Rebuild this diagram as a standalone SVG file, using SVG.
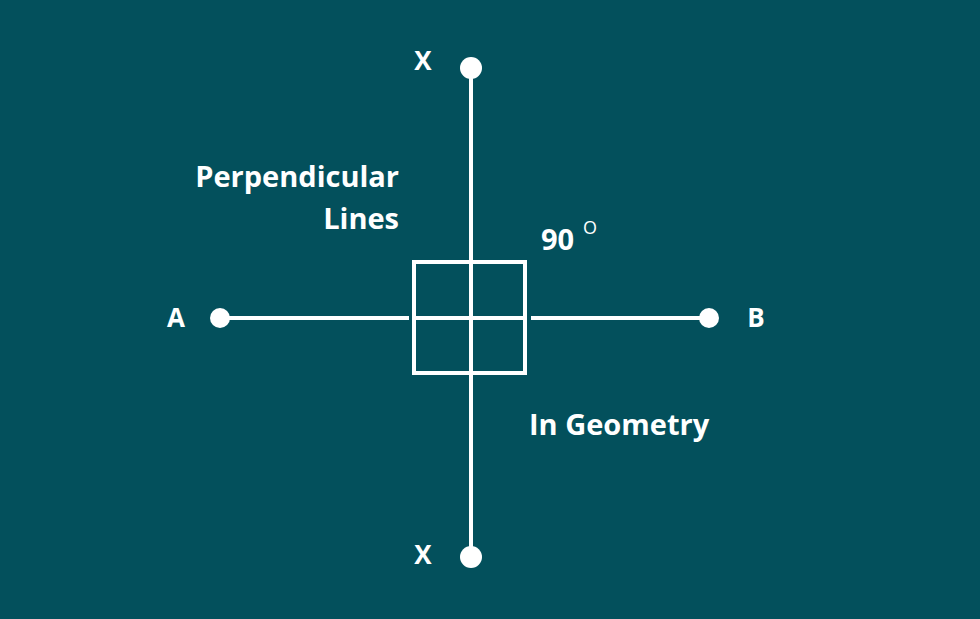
<svg xmlns="http://www.w3.org/2000/svg" width="980" height="619" viewBox="0 0 980 619">
<style>
.t{font-family:"Open Sans",sans-serif;font-weight:700;fill:#fff}
.l{stroke:#fff;stroke-width:4;fill:none}
</style>
<rect width="980" height="619" fill="#03505c"/>
<g id="connectors">
<line class="l" x1="471" y1="68" x2="471" y2="557"/>
<line class="l" x1="220" y1="318" x2="409" y2="318"/>
<line class="l" x1="415" y1="318" x2="524" y2="318"/>
<line class="l" x1="531" y1="318" x2="709" y2="318"/>
</g>
<g id="square"><rect class="l" x="414" y="262" width="111" height="111" stroke-width="3"/></g>
<g id="X-top"><circle cx="471" cy="68" r="11" fill="#fff"/><text class="t" x="423" y="70" font-size="26" text-anchor="middle">X</text></g>
<g id="X-bottom"><circle cx="471" cy="557" r="11" fill="#fff"/><text class="t" x="423" y="564" font-size="26" text-anchor="middle">X</text></g>
<g id="A"><circle cx="220" cy="318" r="10" fill="#fff"/><text class="t" x="176" y="327" font-size="26" text-anchor="middle">A</text></g>
<g id="B"><circle cx="709" cy="318" r="10" fill="#fff"/><text class="t" x="756" y="327" font-size="26" text-anchor="middle">B</text></g>
<g id="title"><text class="t" x="399" y="187" font-size="29" text-anchor="end">Perpendicular</text><text class="t" x="399" y="229" font-size="29" text-anchor="end">Lines</text></g>
<g id="angle"><text class="t" x="541" y="250" font-size="29">90</text><text x="583" y="234" font-size="18" fill="#fff" font-family="Open Sans,sans-serif">O</text></g>
<g id="geo"><text class="t" x="529" y="435" font-size="29">In Geometry</text></g>
</svg>
